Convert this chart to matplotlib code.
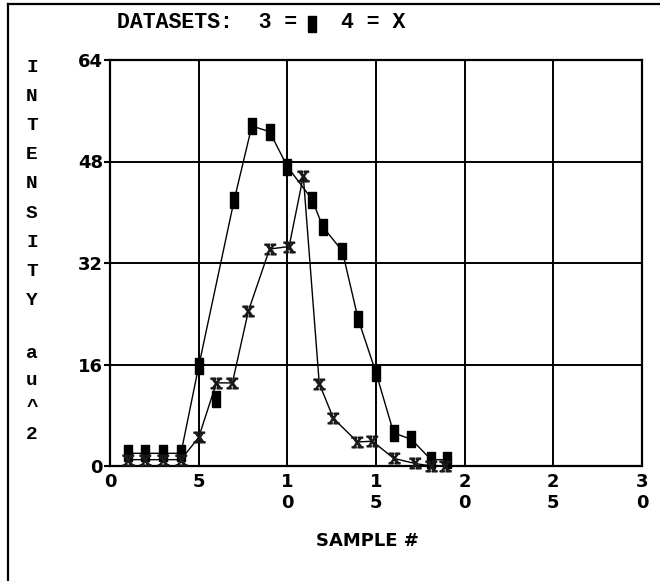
import matplotlib
matplotlib.use("Agg")
import matplotlib.pyplot as plt
from matplotlib.lines import Line2D
import numpy as np

plt.rcParams['mathtext.fontset'] = 'dejavuserif'

# dataset 3 (bar marker) and dataset 4 (x marker)
sq_x = [1, 2, 3, 4, 5, 6, 7, 8, 9, 10, 11.4, 12, 13.1, 14, 15, 16, 17, 18.1, 19]
sq_y = [2, 2, 2, 2, 15.7, 10.5, 41.9, 53.6, 52.7, 47.2, 42.0, 37.7, 33.9, 23.1, 14.7, 5.2, 4.2, 1.0, 1.0]
sq_unlinked = [5]   # the sample-6 point is drawn but not joined

xx_x = [1, 2, 3, 4, 5, 6, 6.9, 7.8, 9, 10.1, 10.9, 11.8, 12.6, 13.95, 14.8, 16, 17.2, 18.1, 18.9]
xx_y = [1, 1, 1, 1, 4.5, 13.1, 13.1, 24.4, 34.2, 34.6, 45.7, 13.0, 7.5, 3.8, 3.9, 1.2, 0.4, 0, 0]

x_ticks = [0, 5, 10, 15, 20, 25, 30]
y_ticks = [0, 16, 32, 48, 64]
ylab_top = "INTENSITY"
ylab_bot = "au^2"

MONO = ['Liberation Mono', 'DejaVu Sans Mono']
BOLD = 'DejaVu Sans'

bar = [(-0.27, -0.5), (0.27, -0.5), (0.27, 0.5), (-0.27, 0.5), (-0.27, -0.5)]

W, H = 660, 581
fig = plt.figure(figsize=(6.6, 5.81), dpi=100)
ax = fig.add_axes([110 / W, 1 - 466 / H, 532 / W, 406 / H])

keep = [i for i in range(len(sq_x)) if i not in sq_unlinked]
ax.plot([sq_x[i] for i in keep], [sq_y[i] for i in keep], color='black', lw=1.0, zorder=3)
ax.plot(sq_x, sq_y, ls='none', marker=bar, ms=11, color='black', clip_on=False, zorder=4)
ax.plot(xx_x, xx_y, color='black', lw=1.0, zorder=3)
ax.plot(xx_x, xx_y, ls='none', marker=r'$\mathrm{x}$', ms=8, color='#1a1a1a', clip_on=False, zorder=4)

ax.set_xlim(0, 30)
ax.set_ylim(0, 64)
ax.set_xticks(x_ticks)
ax.set_xticklabels(["\n".join(str(t)) for t in x_ticks], fontsize=13, fontweight='bold',
                   family=BOLD, linespacing=1.25, va='top')
ax.set_yticks(y_ticks)
ax.set_yticklabels([str(t) for t in y_ticks], fontsize=13, fontweight='bold', family=BOLD)
ax.tick_params(axis='x', length=0, pad=5)
ax.tick_params(axis='y', length=4, width=1.5, pad=1, direction='out')
ax.grid(color='black', lw=1.4)
ax.set_axisbelow(True)
for s in ax.spines.values():
    s.set_linewidth(1.6)

# title / legend line
fig.text(117 / W, 1 - 23 / H, "DATASETS:  3 =", family=MONO, fontsize=15.5,
         fontweight='bold', va='center', ha='left')
fig.add_artist(Line2D([312 / W], [1 - 24 / H], marker=bar, ms=11, color='black', ls='none'))
fig.text(341 / W, 1 - 23 / H, "4 = X", family=MONO, fontsize=15.5,
         fontweight='bold', va='center', ha='left')

# stacked y label
for i, ch in enumerate(ylab_top):
    fig.text(32 / W, 1 - (67 + 29.2 * i) / H, ch, family=MONO, fontsize=14,
             fontweight='bold', ha='center', va='center')
for i, ch in enumerate(ylab_bot):
    fig.text(32 / W, 1 - (353 + 27.2 * i) / H, ch, family=MONO, fontsize=14,
             fontweight='bold', ha='center', va='center')

fig.text(367 / W, 1 - 541 / H, "SAMPLE #", family=BOLD, fontsize=13,
         fontweight='bold', ha='center', va='center')

# outer frame (top and left edges only show)
fig.add_artist(Line2D([8 / W, 1], [1 - 4 / H, 1 - 4 / H], color='black', lw=1.6))
fig.add_artist(Line2D([8 / W, 8 / W], [0, 1 - 4 / H], color='black', lw=1.6))

fig.savefig("out.png", dpi=100)
